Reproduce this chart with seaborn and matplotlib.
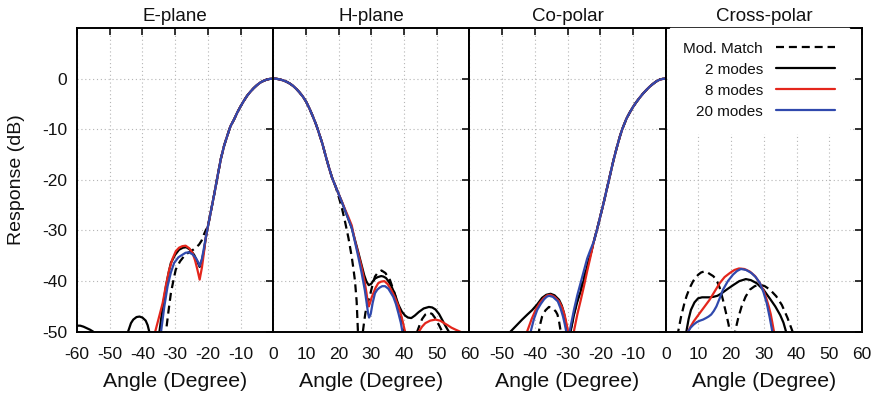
import matplotlib
matplotlib.use("Agg")
import matplotlib.pyplot as plt
from matplotlib.lines import Line2D
import pandas as pd
import seaborn as sns

SERIES = ["Mod. Match", "2 modes", "8 modes", "20 modes"]
PANEL_TITLES = ["E-plane", "H-plane", "Co-polar", "Cross-polar"]
Y_TICKS = [-50, -40, -30, -20, -10, 0]
NEG_TICKS = [-60, -50, -40, -30, -20, -10, 0]
POS_TICKS = [0, 10, 20, 30, 40, 50, 60]
E_TICK_LABELS = ["-60", "-50", "-40", "-30", "-20", "-10", "0"]
H_TICK_LABELS = ["", "10", "20", "30", "40", "50", "60"]
CO_TICK_LABELS = ["", "-50", "-40", "-30", "-20", "-10", "0"]
CX_TICK_LABELS = ["", "10", "20", "30", "40", "50", "60"]

# ---------------- E-plane ----------------
E_MAIN_X = [-20, -19, -18, -17, -16, -15, -14, -13.4, -13, -12, -11, -10, -9, -8, -7, -6,
            -5, -4, -3, -2, -1, 0]
E_MAIN_Y = [-29.3, -26.0, -22.7, -19.2, -15.8, -13.2, -11.2, -10.0, -9.3, -8.1, -6.7, -5.5,
            -4.4, -3.4, -2.6, -1.9, -1.3, -0.8, -0.45, -0.2, -0.05, 0]
E_MM_X = [-33.5, -32.8, -32, -31.3, -30.5, -29.8, -28.5, -27.3, -26, -24.7, -23.7, -22.7,
          -21.9, -21.2, -20.6] + E_MAIN_X
E_MM_Y = [-54, -50, -45.8, -42.4, -39.8, -37.7, -36.1, -35.1, -34.4, -33.9, -33.4, -32.8,
          -32.0, -30.8, -29.9] + E_MAIN_Y
E_M2_X = [-60, -59, -58, -57, -56, -55, -53, -46, -44.4, -43.5, -42.8, -41.8, -40.9, -40,
          -39, -38.4, -37.9, -36.3, -34.8, -33.8, -32.8, -32, -31.3, -30, -28.8, -27.6,
          -26.6, -25.4, -24.2, -23.3, -22.5, -21.8, -21.2, -20.6] + E_MAIN_X
E_M2_Y = [-48.8, -48.8, -49.0, -49.3, -49.6, -50, -54, -54, -50, -48.3, -47.6, -47.1, -47.0,
          -47.2, -47.8, -48.7, -50, -57, -50, -45.2, -41, -38.4, -36.4, -34.8, -33.8, -33.4,
          -33.3, -33.8, -34.8, -36.0, -37.2, -35.8, -34.0, -31.4] + E_MAIN_Y
E_M8_X = [-37, -36.1, -35, -33.8, -32.8, -31.8, -30.8, -29.8, -28.8, -27.8, -26.8, -25.7,
          -24.7, -23.9, -23.2, -22.5, -21.8, -21.2, -20.7] + E_MAIN_X
E_M8_Y = [-53, -50, -47.3, -44.3, -40.8, -37.7, -35.6, -34.1, -33.4, -33.1, -33.0, -33.5,
          -34.4, -35.9, -37.7, -39.7, -37.3, -34.4, -31.7] + E_MAIN_Y
E_M20_X = [-35, -34.3, -33.3, -32.3, -31.3, -30.3, -29, -27.8, -26.8, -25.8, -24.7, -23.7,
           -23, -22.5, -21.8, -21.2, -20.6] + E_MAIN_X
E_M20_Y = [-54, -50, -45, -41, -38.3, -36.4, -35.3, -34.8, -34.4, -34.3, -34.7, -35.4,
           -36.2, -37.0, -35.6, -33.5, -31.3] + E_MAIN_Y

# ---------------- H-plane ----------------
H_MAIN_X = [0, 1, 2, 3, 4, 5, 6, 7, 8, 9, 10, 11, 12, 13, 13.6, 14, 15, 16, 17, 18, 19]
H_MAIN_Y = [0, -0.04, -0.15, -0.35, -0.6, -0.95, -1.4, -2.0, -2.7, -3.5, -4.5, -5.8, -7.3,
            -8.9, -10, -10.8, -12.8, -15.2, -17.5, -19.6, -21.2]
H_MM_X = H_MAIN_X + [20, 21, 22, 23, 24, 24.5, 25, 25.5, 25.9, 26.6, 27.4, 27.8, 28.2, 28.8,
                     29.5, 30.3, 31.1, 32, 33.1, 34.3, 35.7, 37, 38.3, 39.2, 40.1, 42, 44,
                     44.8, 45.5, 46.5, 47.6, 48.6, 49.5, 50.6, 51.7, 53]
H_MM_Y = H_MAIN_Y + [-23.3, -25.6, -28.4, -31.5, -35.2, -37.5, -40.0, -44, -50, -58, -50,
                     -48, -46.2, -44.5, -43, -40.9, -39.1, -38.3, -37.9, -38.4, -39.8, -42.2,
                     -45, -47.4, -50, -56, -50, -48.6, -47.5, -46.6, -46.2, -46.5, -47.3,
                     -48.6, -50, -53]
H_M2_X = H_MAIN_X + [20, 21, 22, 23, 24, 25, 26, 27, 27.8, 28.5, 29.2, 30, 30.5, 31.1, 32,
                     33, 33.7, 34.5, 35.3, 36.2, 37.2, 38.3, 39.3, 40.3, 41.2, 42.2, 43.3,
                     44.5, 46, 47.6, 48.6, 49.6, 50.7, 51.7, 52.7, 53.7, 55]
H_M2_Y = H_MAIN_Y + [-22.8, -24.4, -26.1, -27.8, -29.5, -31.9, -34.3, -36.8, -38.8, -40.1,
                     -40.8, -40.5, -40.0, -39.5, -39.2, -39.0, -39.1, -39.4, -40.1, -41.1,
                     -42.6, -44.7, -46.0, -46.8, -47.2, -47.3, -46.8, -46.1, -45.4, -45.1,
                     -45.2, -45.6, -46.5, -47.7, -48.9, -50, -52]
H_M8_X = H_MAIN_X + [20, 21, 22, 23, 24, 25, 26, 27, 28, 28.5, 28.8, 29.2, 29.6, 30.1, 30.6,
                     31.3, 32.1, 33, 34, 35, 36.2, 37.2, 38.3, 39.3, 40.3, 42.4, 44.5, 45.5,
                     46.5, 48, 49.6, 51, 52, 53.3, 54.5, 55.8, 57.2, 60]
H_M8_Y = H_MAIN_Y + [-22.8, -24.3, -25.9, -27.4, -29.0, -32.1, -34.6, -37.2, -40.3, -42.3,
                     -43.7, -45.0, -44.3, -43.2, -42.4, -41.3, -40.4, -40.1, -40.0, -40.6,
                     -41.9, -43.2, -45.0, -47.2, -50, -58, -50, -49, -48.3, -47.8, -47.6,
                     -47.8, -48.2, -48.7, -49.2, -49.6, -50, -51]
H_M20_X = H_MAIN_X + [20, 21, 22, 23, 24, 25, 26, 27, 28, 28.6, 29, 29.3, 29.8, 30.4, 31.1,
                      31.8, 32.5, 33.3, 34.2, 35.2, 36.7, 37.5, 38.3, 39, 39.5, 40.5]
H_M20_Y = H_MAIN_Y + [-22.8, -24.4, -26.1, -27.8, -29.5, -32.3, -35.2, -38.3, -41.8, -44.5,
                      -46.4, -47.2, -46.5, -44.3, -42.4, -41.7, -41.3, -41.0, -41.0, -41.5,
                      -43.1, -44.5, -46.4, -48.2, -50, -55]

# ---------------- Co-polar ----------------
CO_MAIN_X = [-22, -21, -20, -19, -18, -17, -16, -15, -14, -13.3, -12, -11, -10, -9, -8, -7,
             -6, -5, -4, -3, -2, -1, 0]
CO_MAIN_Y = [-32.2, -29.8, -27.2, -24.6, -21.8, -19.0, -16.2, -13.7, -11.4, -10, -7.9, -6.7,
             -5.6, -4.65, -3.8, -3.0, -2.3, -1.65, -1.1, -0.6, -0.25, -0.06, 0]
CO_MM_X = [-40, -38.8, -38.3, -37.8, -36.8, -35.7, -34.5, -33.6, -33.1, -32.6, -32.1, -30.6,
           -29.2, -28, -27, -26, -25, -24, -23] + CO_MAIN_X
CO_MM_Y = [-56, -50, -48.3, -47, -45.8, -45.1, -45.4, -46.0, -46.6, -48, -50, -60, -50,
           -46.3, -43.7, -41.5, -39.3, -37, -34.8] + CO_MAIN_Y
CO_M2_X = [-50, -47.5, -45.7, -43.9, -42.3, -40.8, -39.3, -37.8, -36.5, -35.2, -34, -32.6,
           -31.8, -31.1, -30.6, -30.1, -29.6, -29.1, -28, -27, -26, -25, -24,
           -23] + CO_MAIN_X
CO_M2_Y = [-52, -50, -48.8, -47.6, -46.6, -45.7, -44.6, -43.3, -42.7, -42.5, -42.8, -43.7,
           -44.8, -46.3, -48, -50, -58, -50, -46.5, -44, -42, -39.6, -37,
           -34.8] + CO_MAIN_Y
CO_M8_X = [-43.5, -42.4, -41, -39.8, -38.5, -37.2, -36.2, -35.2, -34, -32.6, -31.6, -30.8,
           -30.3, -29.8, -29, -28.1, -27, -26, -25, -24, -23] + CO_MAIN_X
CO_M8_Y = [-54, -50, -47.5, -45.7, -44.3, -43.3, -42.8, -42.7, -43.1, -44.0, -45.3, -47.0,
           -48.5, -50, -58, -50, -46.5, -43.8, -41, -38, -35.2] + CO_MAIN_Y
CO_M20_X = [-43, -41.3, -40.3, -39.3, -38.2, -37.2, -36.4, -35.7, -34.5, -33, -32.2, -31.4,
            -30.9, -30.4, -29.9, -29.4, -28, -27, -26, -25, -24, -23] + CO_MAIN_X
CO_M20_Y = [-55, -50, -47.5, -45.7, -44.5, -43.6, -43.1, -42.9, -43.1, -44, -45.3, -47,
            -48.4, -50, -58, -50, -45.5, -42.7, -40.3, -37.9, -35.5, -33.8] + CO_MAIN_Y

# ---------------- Cross-polar ----------------
CX_MM_X = [2.5, 3.8, 4.7, 5.7, 6.4, 7, 7.6, 8.3, 9.1, 10, 10.8, 11.7, 12.6, 13.5, 14.5, 15.5,
           16.5, 17.5, 18.4, 19.2, 19.6, 20.3, 21.2, 22.2, 23.2, 24.4, 25.7, 27.2, 28.8,
           30.3, 31.9, 33.8, 35.5, 37.2, 38.8, 40]
CX_MM_Y = [-56, -50, -47, -44.4, -42.9, -41.9, -41.0, -40.1, -39.3, -38.7, -38.3, -38.1,
           -38.2, -38.6, -39.0, -39.7, -41.3, -43.7, -46.2, -48.5, -50, -57, -50, -47.2, -45,
           -43.1, -41.7, -41.0, -40.7, -41.0, -41.7, -43.0, -44.7, -47.2, -50, -54]
CX_M2_X = [5.5, 6.3, 7, 7.7, 8.8, 9.9, 11.1, 12.4, 13.5, 14.6, 15.8, 17.1, 18.8, 20.6, 22.5,
           24.5, 26, 27.8, 30, 31.9, 33.5, 35, 36, 36.8, 38]
CX_M2_Y = [-54, -50, -47.5, -45.7, -44.2, -43.4, -43.2, -43.2, -43.2, -43.1, -42.9, -42.4,
           -41.6, -40.8, -40.0, -39.6, -39.8, -40.4, -41.8, -43.5, -45.0, -46.7, -48.2, -50,
           -54]
CX_M8_X = [6, 6.8, 7.6, 8.5, 9.4, 10.3, 11.8, 13.4, 15, 16.5, 18, 19.6, 21, 22.4, 24, 25.7,
           27.3, 28.8, 30, 30.9, 31.5, 32.1, 32.6, 33.1, 34]
CX_M8_Y = [-54, -50, -49, -48.0, -47.2, -46.4, -45.1, -43.7, -42, -40.4, -39.2, -38.4,
           -37.8, -37.5, -37.6, -38.1, -39.0, -40.4, -42.0, -43.7, -45.0, -46.5, -48.2, -50,
           -55]
CX_M20_X = [6, 6.8, 7.6, 8.5, 9.5, 10.5, 11.4, 12.3, 13.1, 13.9, 14.7, 15.5, 16.5, 17.5, 19,
            20.6, 21.8, 23, 24.6, 26.2, 27.5, 28.8, 29.9, 30.9, 31.8, 32.6, 33.5]
CX_M20_Y = [-54, -50, -49.2, -48.6, -48.1, -47.8, -47.6, -47.3, -47.0, -46.6, -45.9, -45.0,
            -43.4, -41.7, -40.0, -38.7, -38.0, -37.6, -37.8, -38.4, -39.2, -40.4, -42.2,
            -44.4, -47.2, -50, -55]

PANELS = [
    ((-60, 0), NEG_TICKS, E_TICK_LABELS,
     [(E_MM_X, E_MM_Y), (E_M2_X, E_M2_Y), (E_M8_X, E_M8_Y), (E_M20_X, E_M20_Y)]),
    ((0, 60), POS_TICKS, H_TICK_LABELS,
     [(H_MM_X, H_MM_Y), (H_M2_X, H_M2_Y), (H_M8_X, H_M8_Y), (H_M20_X, H_M20_Y)]),
    ((-60, 0), NEG_TICKS, CO_TICK_LABELS,
     [(CO_MM_X, CO_MM_Y), (CO_M2_X, CO_M2_Y), (CO_M8_X, CO_M8_Y), (CO_M20_X, CO_M20_Y)]),
    ((0, 60), POS_TICKS, CX_TICK_LABELS,
     [(CX_MM_X, CX_MM_Y), (CX_M2_X, CX_M2_Y), (CX_M8_X, CX_M8_Y), (CX_M20_X, CX_M20_Y)]),
]

sns.set_theme(style="white")
plt.rcParams["font.family"] = ["Liberation Sans", "DejaVu Sans"]
for k in ["text.color", "axes.labelcolor", "xtick.color", "ytick.color"]:
    plt.rcParams[k] = "#111111"

PALETTE = {"Mod. Match": "#000000", "2 modes": "#000000",
           "8 modes": "#e4261c", "20 modes": "#3049ad"}
DASHES = {"Mod. Match": (3.6, 2.2), "2 modes": "", "8 modes": "", "20 modes": ""}
LW = 1.6

fig, axes = plt.subplots(1, 4, figsize=(8.8, 3.94), dpi=100, sharey=True)
fig.subplots_adjust(left=0.0875, right=0.9795, top=0.929, bottom=0.158, wspace=0)

for ax, title, (xlim, ticks, tlabels, series) in zip(axes, PANEL_TITLES, PANELS):
    frames = [pd.DataFrame({"angle": x, "dB": y, "series": name})
              for name, (x, y) in zip(SERIES, series)]
    df = pd.concat(frames, ignore_index=True)
    sns.lineplot(data=df, x="angle", y="dB", hue="series", style="series",
                 hue_order=SERIES, style_order=SERIES, palette=PALETTE,
                 dashes=DASHES, estimator=None, sort=False, legend=False,
                 linewidth=LW, ax=ax)
    ax.set_xlim(*xlim)
    ax.set_ylim(-50, 10)
    ax.set_xticks(ticks)
    ax.set_xticklabels(tlabels, fontsize=12.5)
    ax.set_yticks(Y_TICKS)
    ax.grid(True, color="#b5b5b5", linestyle=(0, (1, 2.5)), linewidth=0.8)
    ax.set_axisbelow(True)
    ax.tick_params(axis="both", which="major", direction="in", length=5, width=1.2,
                   top=True, right=True)
    ax.tick_params(axis="x", pad=11)
    ax.tick_params(axis="y", pad=7)
    for sp in ax.spines.values():
        sp.set_visible(True)
        sp.set_color("#000000")
        sp.set_linewidth(1.4)
    ax.set_title(title, fontsize=13.5, pad=5)
    ax.set_xlabel("Angle (Degree)", fontsize=15.3, labelpad=7)
    ax.set_ylabel("")

axes[0].set_yticklabels([str(v) for v in Y_TICKS], fontsize=12.5)
axes[0].set_ylabel("Response (dB)", fontsize=14, labelpad=12)

handles = []
for s in SERIES:
    if DASHES[s]:
        handles.append(Line2D([], [], color=PALETTE[s], lw=LW, dashes=DASHES[s]))
    else:
        handles.append(Line2D([], [], color=PALETTE[s], lw=LW, linestyle="-"))
leg = axes[3].legend(handles, SERIES, loc="upper right", bbox_to_anchor=(0.935, 1.0),
                     borderaxespad=0, markerfirst=False, frameon=True, fancybox=False,
                     framealpha=1, edgecolor="white", facecolor="white", fontsize=11,
                     handlelength=3.9, handletextpad=0.85, labelspacing=0.46, borderpad=0.9)

fig.savefig("out.png", dpi=100)
